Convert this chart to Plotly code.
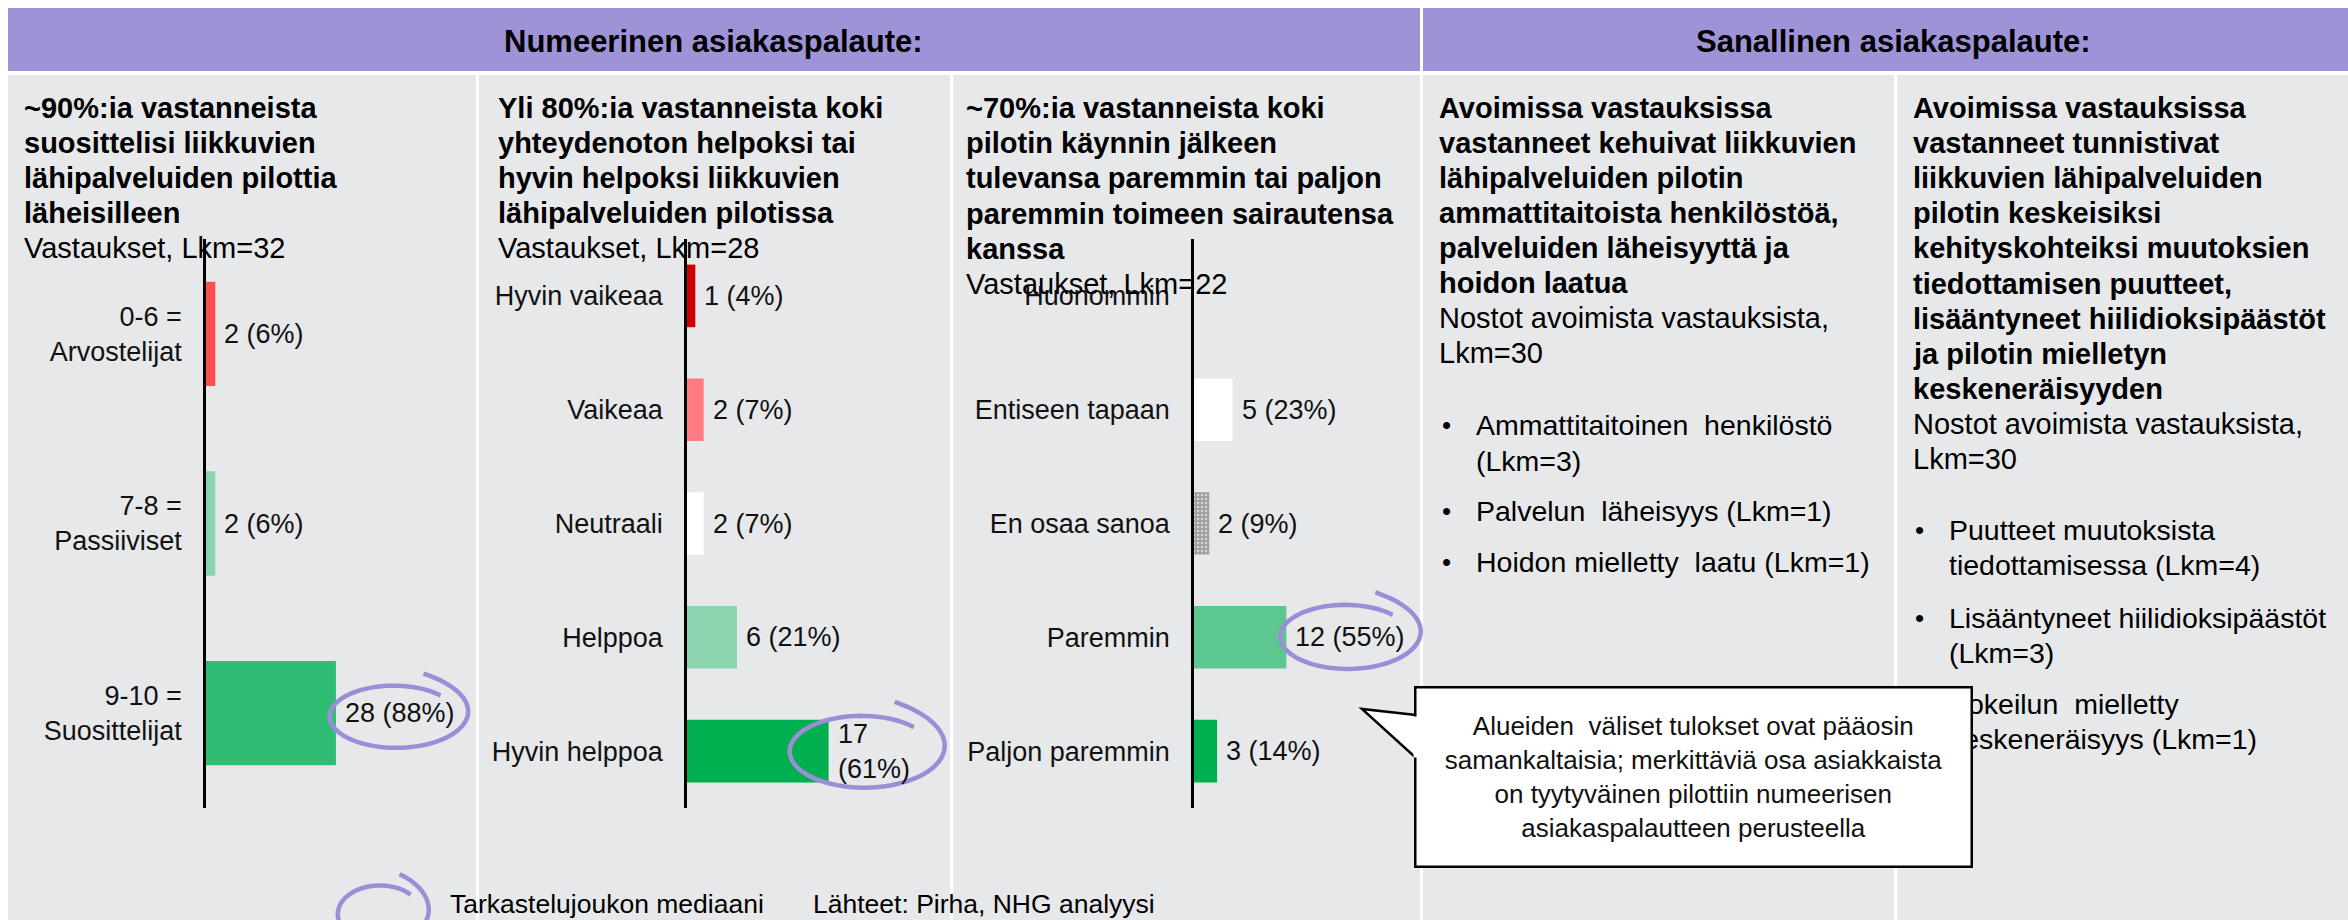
import math
import plotly.graph_objects as go

W, H = 2348, 920
FONT = "Liberation Sans, Arial, sans-serif"

# ---------------- data ----------------
nps_categories = ["0-6 =<br>Arvostelijat", "7-8 =<br>Passiiviset", "9-10 =<br>Suosittelijat"]
nps_counts = [2, 2, 28]
nps_pcts = [6, 6, 88]
nps_colors = ["#FF5050", "#8AD4B0", "#2EBD72"]
nps_median = 2

ease_categories = ["Hyvin vaikeaa", "Vaikeaa", "Neutraali", "Helppoa", "Hyvin helppoa"]
ease_counts = [1, 2, 2, 6, 17]
ease_pcts = [4, 7, 7, 21, 61]
ease_colors = ["#CC0000", "#FF7C80", "#FFFFFF", "#8AD4B0", "#00B050"]
ease_median = 4

cope_categories = ["Huonommin", "Entiseen tapaan", "En osaa sanoa", "Paremmin", "Paljon paremmin"]
cope_counts = [0, 5, 2, 12, 3]
cope_pcts = [0, 23, 9, 55, 14]
cope_colors = ["#FFFFFF", "#FFFFFF", "#FFFFFF", "#5CC78F", "#00B050"]
cope_patterns = ["", "", ".", "", ""]
cope_median = 3

header_left = "Numeerinen asiakaspalaute:"
header_right = "Sanallinen asiakaspalaute:"

p1_title = ["~90%:ia vastanneista", "suosittelisi liikkuvien", "lähipalveluiden pilottia", "läheisilleen"]
p1_sub = "Vastaukset, Lkm=32"
p2_title = ["Yli 80%:ia vastanneista koki", "yhteydenoton helpoksi tai", "hyvin helpoksi liikkuvien",
            "lähipalveluiden pilotissa"]
p2_sub = "Vastaukset, Lkm=28"
p3_title = ["~70%:ia vastanneista koki", "pilotin käynnin jälkeen", "tulevansa paremmin tai paljon",
            "paremmin toimeen sairautensa", "kanssa"]
p3_sub = "Vastaukset, Lkm=22"

p4_title = ["Avoimissa vastauksissa", "vastanneet kehuivat liikkuvien", "lähipalveluiden pilotin",
            "ammattitaitoista henkilöstöä,", "palveluiden läheisyyttä ja", "hoidon laatua"]
p4_sub = ["Nostot avoimista vastauksista,", "Lkm=30"]
p4_bullets = [["Ammattitaitoinen  henkilöstö", "(Lkm=3)"], ["Palvelun  läheisyys (Lkm=1)"],
              ["Hoidon mielletty  laatu (Lkm=1)"]]

p5_title = ["Avoimissa vastauksissa", "vastanneet tunnistivat", "liikkuvien lähipalveluiden",
            "pilotin keskeisiksi", "kehityskohteiksi muutoksien", "tiedottamisen puutteet,",
            "lisääntyneet hiilidioksipäästöt", "ja pilotin mielletyn", "keskeneräisyyden"]
p5_sub = ["Nostot avoimista vastauksista,", "Lkm=30"]
p5_bullets = [["Puutteet muutoksista", "tiedottamisessa (Lkm=4)"],
              ["Lisääntyneet hiilidioksipäästöt", "(Lkm=3)"],
              ["Kokeilun  mielletty", "keskeneräisyys (Lkm=1)"]]

callout_lines = ["Alueiden  väliset tulokset ovat pääosin", "samankaltaisia; merkittäviä osa asiakkaista",
                 "on tyytyväinen pilottiin numeerisen", "asiakaspalautteen perusteella"]
legend_text = "Tarkastelujoukon mediaani"
source_text = "Lähteet: Pirha, NHG analyysi"

# ---------------- layout helpers ----------------
HEADER_BG = "#9F93D8"
PANEL_BG = "#E7E8EA"
CIRCLE = "#9B8DD6"

def px(x):
    return x / W

def py(y):
    return 1 - y / H

shapes = []
annotations = []

def rect(x0, y0, x1, y1, color):
    shapes.append(dict(type="rect", xref="paper", yref="paper", x0=px(x0), x1=px(x1),
                       y0=py(y1), y1=py(y0), fillcolor=color, line=dict(width=0), layer="below"))

def text(x, y, s, size, bold=False, anchor="left", color="#000000"):
    annotations.append(dict(x=px(x), y=py(y), xref="paper", yref="paper",
                            text=f"<b>{s}</b>" if bold else s, showarrow=False,
                            xanchor=anchor, yanchor="middle",
                            font=dict(family=FONT, size=size, color=color)))

# backgrounds
rect(8, 8, 1420, 71, HEADER_BG)
rect(1423, 8, W, 71, HEADER_BG)
for x0, x1 in [(8, 476), (479, 950), (953, 1420), (1423, 1894), (1897, W)]:
    rect(x0, 75, x1, H, PANEL_BG)

text(713, 41, header_left, 31, bold=True, anchor="center")
text(1893, 41, header_right, 31, bold=True, anchor="center")

TS = 29
def title_block(x, lines, sub, y0=108, dy=35):
    y = y0
    for ln in lines:
        text(x, y, ln, TS, bold=True)
        y += dy
    subs = sub if isinstance(sub, list) else [sub]
    for ln in subs:
        text(x, y, ln, TS)
        y += dy
    return y

title_block(22, p1_title, p1_sub)
title_block(496, p2_title, p2_sub)
title_block(964, p3_title, p3_sub, dy=35.2)
title_block(1437, p4_title, p4_sub)
title_block(1911, p5_title, p5_sub, dy=35.1)

def bullets(xb, xt, groups, ys, dy):
    for grp, y in zip(groups, ys):
        text(xb, y, "•", 26)
        for k, ln in enumerate(grp):
            text(xt, y + k * dy, ln, 28.5)

bullets(1440, 1474, p4_bullets, [425, 511, 562], 36)
bullets(1913, 1947, p5_bullets, [530, 618, 704], 35)

# ---------------- charts ----------------
Y_TOP, Y_BOT = 239, 808
panels = [
    dict(cats=nps_categories, counts=nps_counts, pcts=nps_pcts, colors=nps_colors, pattern=None,
         median=nps_median, ax_x=206, ppu=4.64, width=264, ell=(58, 3, 67, 32)),
    dict(cats=ease_categories, counts=ease_counts, pcts=ease_pcts, colors=ease_colors, pattern=None,
         median=ease_median, ax_x=687, ppu=8.33, width=258, ell=(33, 0, 75, 37)),
    dict(cats=cope_categories, counts=cope_counts, pcts=cope_pcts, colors=cope_colors,
         pattern=cope_patterns, median=cope_median, ax_x=1194, ppu=7.7, width=221, ell=(59, -1, 68, 33)),
]

fig = go.Figure()
layout_axes = {}

def swoosh(cx, cy, rx, ry, n=90):
    t0 = -1.25
    t1 = t0 + 2 * math.pi + 0.5
    pts = []
    for k in range(n + 1):
        f = k / n
        t = t0 + (t1 - t0) * f
        s = 0.95 + 0.45 * math.exp(-6 * f)
        pts.append((px(cx + rx * s * math.cos(t)), py(cy + ry * s * math.sin(t))))
    return "M " + " L ".join(f"{a:.5f},{b:.5f}" for a, b in pts)

for i, p in enumerate(panels, start=1):
    xa = "x" if i == 1 else f"x{i}"
    ya = "y" if i == 1 else f"y{i}"
    marker = dict(color=p["colors"], line=dict(width=0))
    if p["pattern"]:
        marker["pattern"] = dict(shape=p["pattern"], fgcolor="#111111", size=4, solidity=0.8)
    fig.add_trace(go.Bar(y=p["cats"], x=p["counts"], orientation="h", marker=marker,
                         xaxis=xa, yaxis=ya, showlegend=False, hoverinfo="skip"))
    rng = p["width"] / p["ppu"]
    layout_axes["xaxis" if i == 1 else f"xaxis{i}"] = dict(
        domain=[px(p["ax_x"]), px(p["ax_x"] + p["width"])], range=[0, rng], visible=False,
        anchor=ya, fixedrange=True)
    layout_axes["yaxis" if i == 1 else f"yaxis{i}"] = dict(
        domain=[py(Y_BOT), py(Y_TOP)], anchor=xa, type="category", categoryorder="array",
        categoryarray=p["cats"], autorange="reversed", showline=True, linecolor="#000000",
        linewidth=2.5, ticks="", showgrid=False, zeroline=False, ticklabelstandoff=16,
        tickfont=dict(family=FONT, size=27, color="#111111"), fixedrange=True)
    # value labels
    n = len(p["cats"])
    for j, (c, pc) in enumerate(zip(p["counts"], p["pcts"])):
        if c == 0:
            continue
        lab = f"{c} ({pc}%)"
        if i == 2 and j == p["median"]:
            lab = f"{c}<br>({pc}%)"
        annotations.append(dict(x=c, y=j, xref=xa, yref=ya, text=lab, showarrow=False,
                                xanchor="left", yanchor="middle", xshift=7, align="left",
                                font=dict(family=FONT, size=27, color="#111111")))
    # median swoosh
    m = p["median"]
    bar_end = p["ax_x"] + p["counts"][m] * p["ppu"]
    cy_bar = Y_TOP + (m + 0.5) * (Y_BOT - Y_TOP) / n
    dx, dy, rx, ry = p["ell"]
    shapes.append(dict(type="path", xref="paper", yref="paper",
                       path=swoosh(bar_end + dx, cy_bar + dy, rx, ry),
                       line=dict(color=CIRCLE, width=4.5), layer="above"))

# legend swoosh + footer
shapes.append(dict(type="path", xref="paper", yref="paper", path=swoosh(380, 914, 44, 30),
                   line=dict(color=CIRCLE, width=4.5), layer="above"))
text(448, 904, legend_text, 26.5)
text(811, 904, source_text, 26.5)

# callout tail
tail = f"M {px(1416)},{py(715)} L {px(1362)},{py(709)} L {px(1416)},{py(758)}"
shapes.append(dict(type="path", xref="paper", yref="paper", path=tail + " Z",
                   fillcolor="#FFFFFF", line=dict(color="#000000", width=2.5), layer="above"))
# callout box (annotation so it covers underlying text)
annotations.append(dict(x=px(1694), y=py(776.5), xref="paper", yref="paper",
                        text="<br>".join(callout_lines), showarrow=False, align="center",
                        xanchor="center", yanchor="middle", width=554, height=177, borderpad=0,
                        bgcolor="#FFFFFF", bordercolor="#000000", borderwidth=2.5,
                        font=dict(family=FONT, size=26, color="#111111")))
# open the box border where the tail joins
annotations.append(dict(x=px(1415.5), y=py(736.5), xref="paper", yref="paper", text=" ",
                        showarrow=False, xanchor="center", yanchor="middle", width=4, height=40,
                        borderpad=0, bgcolor="#FFFFFF", font=dict(size=4)))

fig.update_layout(width=W, height=H, margin=dict(l=0, r=0, t=0, b=0),
                  paper_bgcolor="#FFFFFF", plot_bgcolor="rgba(0,0,0,0)", bargap=0.45,
                  shapes=shapes, annotations=annotations, **layout_axes)

fig.write_html("out.html", config={"displayModeBar": False},
               post_script="document.body.style.margin='0px';document.body.style.overflow='hidden';")
